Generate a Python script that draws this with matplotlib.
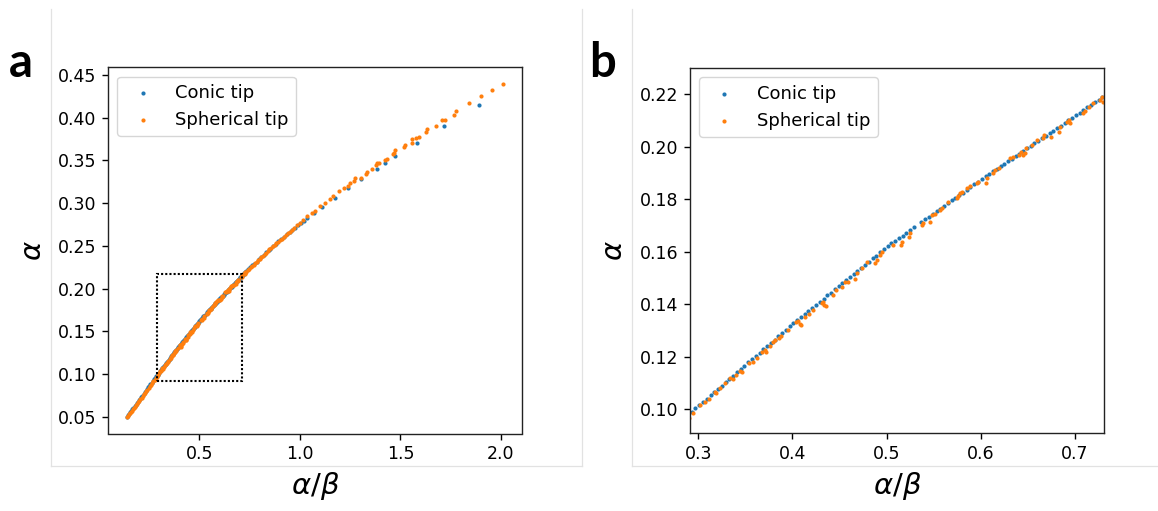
import matplotlib
matplotlib.use('Agg')
import matplotlib.pyplot as plt
from matplotlib.patches import Rectangle
from matplotlib.lines import Line2D

# Conic tip data (alpha/beta, alpha)
conic_x = [0.142, 0.147, 0.152, 0.157, 0.163, 0.168, 0.173, 0.179, 0.184, 0.190,
           0.195, 0.201, 0.207, 0.212, 0.218, 0.224, 0.229, 0.235, 0.241, 0.247,
           0.252, 0.258, 0.264, 0.270, 0.276, 0.281, 0.287, 0.293,
           0.297, 0.301, 0.305, 0.309, 0.313, 0.317, 0.321, 0.325, 0.329, 0.333,
           0.337, 0.341, 0.345, 0.349, 0.353, 0.357, 0.361, 0.365, 0.369, 0.373,
           0.377, 0.381, 0.385, 0.389, 0.393, 0.397,
           0.401, 0.405, 0.409, 0.413, 0.417, 0.421, 0.425, 0.429, 0.433, 0.437,
           0.441, 0.445, 0.449, 0.453, 0.457, 0.461, 0.465, 0.469, 0.473, 0.477,
           0.481, 0.485, 0.489, 0.493, 0.497, 0.501,
           0.505, 0.509, 0.513, 0.517, 0.521, 0.525, 0.529, 0.537, 0.541, 0.545,
           0.549, 0.553, 0.557, 0.561, 0.565, 0.569, 0.573, 0.577, 0.581, 0.585,
           0.589, 0.593, 0.597, 0.601,
           0.605, 0.609, 0.613, 0.617, 0.621, 0.625, 0.629, 0.633, 0.637, 0.641,
           0.645, 0.649, 0.653, 0.657, 0.661, 0.665, 0.669, 0.673, 0.677, 0.681,
           0.685, 0.689, 0.693, 0.697, 0.701, 0.705, 0.709, 0.713, 0.717, 0.721,
           0.725, 0.729,
           0.735, 0.745, 0.755, 0.765, 0.775, 0.785, 0.797, 0.809, 0.821, 0.833,
           0.845, 0.852, 0.866, 0.880, 0.894, 0.908, 0.922, 0.936, 0.950, 0.960,
           0.975, 0.990, 1.005, 1.020, 1.034, 1.0705, 1.11, 1.175, 1.24, 1.3046,
           1.386, 1.424, 1.4736, 1.5815, 1.7174, 1.8915]
conic_y = [0.0500, 0.0516, 0.0533, 0.0549, 0.0568, 0.0585, 0.0601, 0.0620, 0.0637, 0.0656,
           0.0673, 0.0692, 0.0712, 0.0728, 0.0747, 0.0767, 0.0783, 0.0802, 0.0822, 0.0841,
           0.0858, 0.0877, 0.0897, 0.0916, 0.0936, 0.0952, 0.0971, 0.0991,
           0.1004, 0.1016, 0.1029, 0.1041, 0.1054, 0.1066, 0.1079, 0.1091, 0.1104, 0.1116,
           0.1129, 0.1141, 0.1154, 0.1166, 0.1179, 0.1191, 0.1204, 0.1216, 0.1229, 0.1241,
           0.1254, 0.1266, 0.1279, 0.1291, 0.1304, 0.1316,
           0.1328, 0.1340, 0.1351, 0.1363, 0.1375, 0.1387, 0.1398, 0.1410, 0.1422, 0.1434,
           0.1445, 0.1457, 0.1469, 0.1481, 0.1492, 0.1504, 0.1516, 0.1528, 0.1539, 0.1551,
           0.1563, 0.1575, 0.1586, 0.1598, 0.1610, 0.1622,
           0.1632, 0.1642, 0.1652, 0.1662, 0.1673, 0.1683, 0.1693, 0.1714, 0.1724, 0.1734,
           0.1744, 0.1755, 0.1765, 0.1775, 0.1785, 0.1796, 0.1806, 0.1816, 0.1826, 0.1836,
           0.1847, 0.1857, 0.1867, 0.1877,
           0.1887, 0.1896, 0.1906, 0.1916, 0.1926, 0.1935, 0.1945, 0.1955, 0.1965, 0.1974,
           0.1984, 0.1994, 0.2003, 0.2013, 0.2023, 0.2033, 0.2042, 0.2052, 0.2062, 0.2072,
           0.2081, 0.2091, 0.2101, 0.2111, 0.2120, 0.2130, 0.2140, 0.2150, 0.2159, 0.2169,
           0.2179, 0.2189,
           0.2202, 0.2225, 0.2247, 0.2270, 0.2293, 0.2315, 0.2342, 0.2369, 0.2397, 0.2424,
           0.2451, 0.2467, 0.2495, 0.2524, 0.2552, 0.2581, 0.2609, 0.2637, 0.2666, 0.2686,
           0.2714, 0.2741, 0.2769, 0.2796, 0.2822, 0.2883, 0.2950, 0.3063, 0.3177, 0.3278,
           0.3404, 0.3475, 0.3553, 0.3710, 0.3905, 0.4148]

# Spherical tip data (alpha/beta, alpha)
sph_x = [0.1425, 0.148, 0.153, 0.158, 0.161, 0.166, 0.171, 0.176, 0.181, 0.186,
         0.192, 0.197, 0.203, 0.208, 0.214, 0.220, 0.226, 0.231, 0.237, 0.243,
         0.249, 0.255, 0.261, 0.267, 0.273, 0.279, 0.285, 0.290,
         0.2947, 0.3018, 0.3071, 0.3110, 0.3177, 0.3187, 0.3235, 0.3283, 0.3336, 0.3364,
         0.3400, 0.3443, 0.3460, 0.3541, 0.3584, 0.3620, 0.3673, 0.3708, 0.3718, 0.3760,
         0.3796, 0.3814, 0.3859, 0.3874, 0.3955, 0.4037, 0.4061, 0.4079, 0.4086, 0.4133,
         0.4180, 0.4221, 0.4310, 0.4327, 0.4338, 0.4355, 0.4433, 0.4462, 0.4522, 0.4557,
         0.4592, 0.4664, 0.4681, 0.4735, 0.4788, 0.4876, 0.4894, 0.4930, 0.4947, 0.5070,
         0.5148, 0.5159, 0.5240, 0.5247, 0.5372, 0.5390, 0.5461, 0.5478, 0.5514, 0.5566,
         0.5584, 0.5654, 0.5743, 0.5754, 0.5778, 0.5796, 0.5849, 0.5884, 0.5955, 0.5972,
         0.6054, 0.6061, 0.6132, 0.6149, 0.6195, 0.6309, 0.6344, 0.6408, 0.6422, 0.6450,
         0.6468, 0.6479, 0.6539, 0.6592, 0.6656, 0.6670, 0.6741, 0.6832, 0.6839, 0.6910,
         0.6939, 0.6946, 0.7081, 0.7106, 0.7152, 0.7194, 0.7265, 0.7282, 0.7293,
         0.735, 0.742, 0.750, 0.757, 0.764, 0.771, 0.779, 0.786, 0.794, 0.801,
         0.809, 0.817, 0.825, 0.833, 0.841, 0.849, 0.857, 0.866, 0.875, 0.884,
         0.893, 0.902, 0.911, 0.921, 0.931, 0.940, 0.950, 0.9594, 0.970, 0.9876,
         1.0000, 1.0141, 1.0340, 1.0589, 1.0755, 1.1003, 1.1252, 1.1501, 1.1667, 1.1953,
         1.2201, 1.2400, 1.2483, 1.2699, 1.2765, 1.3030, 1.3277, 1.3327, 1.3592, 1.3790,
         1.3820, 1.3955, 1.4224, 1.4323, 1.4620, 1.4686, 1.4736, 1.5200, 1.5234, 1.5580,
         1.5580, 1.5780, 1.5915, 1.6277, 1.6343, 1.6776, 1.7090, 1.7224, 1.7673, 1.7756,
         1.8418, 1.9015, 1.9577, 2.0124]
sph_y = [0.0497, 0.0511, 0.0528, 0.0543, 0.0553, 0.0570, 0.0585, 0.0602, 0.0617, 0.0634,
         0.0652, 0.0669, 0.0688, 0.0704, 0.0723, 0.0742, 0.0763, 0.0778, 0.0798, 0.0817,
         0.0836, 0.0856, 0.0875, 0.0894, 0.0914, 0.0933, 0.0953, 0.0969,
         0.0985, 0.1016, 0.1029, 0.1040, 0.1067, 0.1063, 0.1082, 0.1099, 0.1118, 0.1115,
         0.1131, 0.1147, 0.1143, 0.1175, 0.1181, 0.1196, 0.1219, 0.1226, 0.1219, 0.1240,
         0.1258, 0.1265, 0.1271, 0.1280, 0.1302, 0.1334, 0.1338, 0.1327, 0.1320, 0.1353,
         0.1365, 0.1378, 0.1404, 0.1410, 0.1397, 0.1393, 0.1435, 0.1454, 0.1467, 0.1486,
         0.1486, 0.1495, 0.1518, 0.1537, 0.1562, 0.1556, 0.1568, 0.1588, 0.1601, 0.1626,
         0.1626, 0.1639, 0.1658, 0.1673, 0.1702, 0.1710, 0.1714, 0.1740, 0.1746, 0.1759,
         0.1766, 0.1788, 0.1804, 0.1813, 0.1823, 0.1829, 0.1842, 0.1849, 0.1861, 0.1867,
         0.1863, 0.1880, 0.1899, 0.1912, 0.1918, 0.1956, 0.1962, 0.1969, 0.1981, 0.1969,
         0.1975, 0.1994, 0.2007, 0.2026, 0.2032, 0.2045, 0.2039, 0.2058, 0.2077, 0.2096,
         0.2102, 0.2092, 0.2130, 0.2138, 0.2153, 0.2166, 0.2178, 0.2191, 0.2171,
         0.2195, 0.2212, 0.2232, 0.2248, 0.2265, 0.2281, 0.2300, 0.2316, 0.2333, 0.2350,
         0.2367, 0.2386, 0.2404, 0.2420, 0.2440, 0.2458, 0.2476, 0.2493, 0.2512, 0.2530,
         0.2549, 0.2568, 0.2586, 0.2606, 0.2626, 0.2645, 0.2664, 0.2686, 0.2705, 0.2740,
         0.2770, 0.2799, 0.2850, 0.2889, 0.2908, 0.2967, 0.3006, 0.3052, 0.3083, 0.3146,
         0.3174, 0.3205, 0.3236, 0.3256, 0.3291, 0.3299, 0.3338, 0.3369, 0.3396, 0.3443,
         0.3467, 0.3475, 0.3500, 0.3522, 0.3570, 0.3590, 0.3623, 0.3660, 0.3678, 0.3710,
         0.3757, 0.3765, 0.3772, 0.3834, 0.3874, 0.3905, 0.3979, 0.3975, 0.4034, 0.4081,
         0.4168, 0.4253, 0.4327, 0.4394]

series_labels = ['Conic tip', 'Spherical tip']
panel_labels = ['a', 'b']

plt.rcParams['font.family'] = 'DejaVu Sans'
plt.rcParams['font.size'] = 12.5

W, H = 1158, 511
fig = plt.figure(figsize=(W / 100, H / 100), dpi=100)

# light grey panel borders (pixel coords -> figure coords)
def frame_line(xs, ys):
    fig.add_artist(Line2D([x / W for x in xs], [1 - y / H for y in ys],
                          color='#e2e2e2', lw=0.9, transform=fig.transFigure))

frame_line([51, 51], [9, 466])
frame_line([51, 582], [466, 466])
frame_line([582, 582], [9, 466])
frame_line([632, 632], [9, 466])
frame_line([632, 1158], [466, 466])

ax1 = fig.add_axes([108.3 / W, 1 - 433.5 / H, 414 / W, 366 / H])
ax2 = fig.add_axes([690 / W, 1 - 433.3 / H, 414 / W, 365 / H])

for ax in (ax1, ax2):
    ax.scatter(conic_x, conic_y, s=9, color='#1f77b4', linewidths=0, label=series_labels[0])
    ax.scatter(sph_x, sph_y, s=9, color='#ff7f0e', linewidths=0, label=series_labels[1])
    ax.set_xlabel(r'$\alpha/\beta$', fontsize=21, labelpad=5)
    ax.set_ylabel(r'$\alpha$', fontsize=21, labelpad=8)
    ax.tick_params(length=4.2, width=1.0, pad=4.4, labelsize=12.5)
    for sp in ax.spines.values():
        sp.set_linewidth(1.0)
        sp.set_edgecolor('#222222')
    ax.legend(loc='upper left', fontsize=13)

# zoom window of panel b
ax2.set_xlim(0.2912, 0.7308)
ax2.set_ylim(0.0909, 0.2299)

zoom_x0, zoom_x1 = 0.291, 0.714
zoom_y0, zoom_y1 = 0.0922, 0.2175
ax1.add_patch(Rectangle((zoom_x0, zoom_y0), zoom_x1 - zoom_x0, zoom_y1 - zoom_y0,
                        fill=False, edgecolor='black', lw=1.5, linestyle=(0, (1, 1)), zorder=3))

fig.text(9 / W, 1 - 77 / H, panel_labels[0], fontsize=34, fontweight='bold',
         family='Lato', va='baseline', ha='left')
fig.text(589 / W, 1 - 77 / H, panel_labels[1], fontsize=34, fontweight='bold',
         family='Lato', va='baseline', ha='left')

fig.savefig('out.png', dpi=100)
